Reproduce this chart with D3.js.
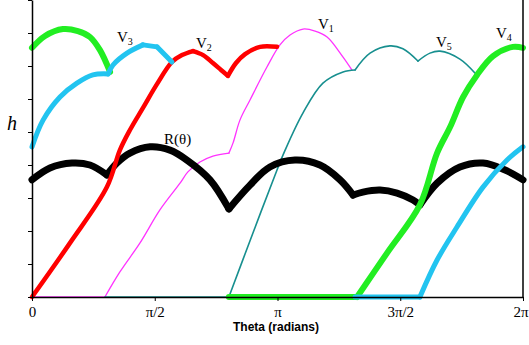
<!DOCTYPE html>
<html>
<head>
<meta charset="utf-8">
<script src="https://cdn.jsdelivr.net/npm/d3@7"></script>
<style>
    body { margin: 0; background: #fff; }
    .tick text { font-family: "Liberation Serif", "Times New Roman", serif; font-size: 15px; }
    .lbl { font-family: "Liberation Serif", "Times New Roman", serif; font-size: 15px; }
    .lbl tspan.sub { font-size: 10px; }
</style>
</head>
<body>
<div id="chart"></div>
<script>
// x values are in multiples of pi, h in axis units (9 ticks)
var tickValues = [0, 0.5, 1, 1.5, 2];
var tickLabels = ["0", "π/2", "π", "3π/2", "2π"];

var rPts = [[0,3.55],[0.073,3.91],[0.163,4.06],[0.236,4.0],[0.305,3.70],[0.346,4.06],[0.399,4.36],
    [0.481,4.55],[0.562,4.45],[0.631,4.15],[0.725,3.55],[0.802,2.67],[0.888,3.39],[0.969,3.94],
    [1.071,4.15],[1.173,4.0],[1.255,3.55],[1.308,3.09],[1.348,3.18],[1.418,3.24],[1.487,3.15],
    [1.552,2.94],[1.580,2.79],[1.650,3.45],[1.743,3.94],[1.837,4.06],[1.927,3.85],[2.0,3.55]];

var v1Pts = [[0,0],[0.297,0],[0.358,0.76],[0.440,1.64],[0.521,2.64],[0.603,3.45],[0.635,3.79],
    [0.684,4.09],[0.737,4.27],[0.802,4.36],[0.819,4.67],[0.847,5.36],[0.888,5.97],[0.957,6.97],
    [1.010,7.64],[1.051,7.94],[1.104,8.12],[1.153,8.06],[1.202,7.88],[1.267,7.27],[1.303,6.88]];

var v2Pts = [[0,0],[0.155,1.64],[0.305,3.33],[0.358,4.45],[0.399,5.06],[0.452,5.73],[0.509,6.45],
    [0.570,7.12],[0.611,7.33],[0.656,7.45],[0.697,7.33],[0.737,7.09],[0.770,6.88],[0.798,6.70],
    [0.831,7.09],[0.868,7.36],[0.929,7.58],[0.998,7.58]];

var v3Pts = [[0,4.55],[0.045,5.36],[0.114,6.06],[0.183,6.48],[0.248,6.73],[0.310,6.76],[0.330,7.03],
    [0.387,7.39],[0.452,7.64],[0.509,7.58],[0.570,7.12], null,
    [1.316,0],[1.580,0],[1.650,1.12],[1.731,2.12],[1.837,3.33],[1.935,4.15],[2.0,4.55]];

var v4Pts = [[0,7.55],[0.053,7.91],[0.126,8.12],[0.187,8.06],[0.236,7.88],[0.277,7.48],[0.318,6.82], null,
    [0.802,0],[1.324,0],[1.446,1.33],[1.580,2.79],[1.650,4.36],[1.703,5.15],[1.756,6.06],
    [1.813,6.73],[1.878,7.30],[1.959,7.58],[2.0,7.55]];

var v5Pts = [[0.297,0],[0.802,0],[0.900,1.94],[0.998,3.85],[1.031,4.45],[1.104,5.58],[1.185,6.48],
    [1.267,6.82],[1.316,6.88],[1.377,7.39],[1.458,7.61],[1.511,7.52],[1.572,7.15],[1.621,7.39],
    [1.662,7.45],[1.743,7.21],[1.804,6.79]];

function init() {

    var w = 529;
    var h = 345;

    var xScale = d3.scaleLinear()
        .domain([0, 2 * Math.PI])
        .range([32, 523]);

    var yScale = d3.scaleLinear()
        .domain([0, 9])
        .range([297, 0]);

    var line = d3.line()
        .curve(d3.curveCatmullRom.alpha(0.5))
        .x(function(d) { return xScale(d[0] * Math.PI); })
        .y(function(d) { return yScale(d[1]); });

    // break a series into smooth pieces: at gaps and at sharp corners (cusps)
    function pieces(pts) {
        var out = [], cur = [];
        pts.forEach(function(p, i) {
            if (p === null) {
                if (cur.length) out.push(cur);
                cur = [];
                return;
            }
            cur.push(p);
            var prev = pts[i - 1], next = pts[i + 1];
            if (prev && next) {
                var a1 = Math.atan2(yScale(p[1]) - yScale(prev[1]), xScale(p[0] * Math.PI) - xScale(prev[0] * Math.PI));
                var a2 = Math.atan2(yScale(next[1]) - yScale(p[1]), xScale(next[0] * Math.PI) - xScale(p[0] * Math.PI));
                if (Math.abs(a2 - a1) > 0.6) {
                    out.push(cur);
                    cur = [p];
                }
            }
        });
        if (cur.length) out.push(cur);
        return out;
    }

    var svg = d3.select("#chart")
        .append("svg")
        .attr("width", w)
        .attr("height", h);

    // series, back to front
    var series = [
        { pts: v1Pts, color: "#FF33FF", width: 1.3 },
        { pts: v5Pts, color: "#178F8F", width: 1.6 },
        { pts: rPts,  color: "#000000", width: 7 },
        { pts: v2Pts, color: "#FF0000", width: 4.5 },
        { pts: v4Pts, color: "#22EE22", width: 6 },
        { pts: v3Pts, color: "#22C4F0", width: 5 }
    ];

    series.forEach(function(s) {
        svg.append("g")
            .selectAll("path")
            .data(pieces(s.pts))
            .join("path")
            .attr("fill", "none")
            .attr("stroke", s.color)
            .attr("stroke-width", s.width)
            .attr("stroke-linejoin", "round")
            .attr("stroke-linecap", "round")
            .attr("d", line);
    });

    // x axis
    var xAxis = d3.axisBottom(xScale)
        .tickValues(tickValues.map(function(v) { return v * Math.PI; }))
        .tickFormat(function(d, i) { return tickLabels[i]; })
        .tickSize(4)
        .tickSizeOuter(0)
        .tickPadding(5);

    var gx = svg.append("g")
        .attr("transform", "translate(0," + yScale(0) + ")")
        .call(xAxis);
    gx.select(".domain").attr("stroke-width", 1.5);

    // keep the last label (2π) inside the picture
    gx.selectAll(".tick text")
        .filter(function(d, i) { return i === tickLabels.length - 1; })
        .attr("text-anchor", "end")
        .attr("x", 5);

    // y axis, ticks only
    var yAxis = d3.axisLeft(yScale)
        .tickValues(d3.range(0, 10))
        .tickFormat("")
        .tickSize(4)
        .tickSizeOuter(0);

    var gy = svg.append("g")
        .attr("transform", "translate(" + xScale(0) + ",0)")
        .call(yAxis);
    gy.select(".domain").attr("stroke-width", 1.5);

    // right border
    svg.append("line")
        .attr("x1", xScale(2 * Math.PI))
        .attr("y1", 0)
        .attr("x2", xScale(2 * Math.PI))
        .attr("y2", yScale(0))
        .attr("stroke", "#000")
        .attr("stroke-width", 1.5);

    // axis titles
    svg.append("text")
        .attr("x", 276)
        .attr("y", 331)
        .attr("text-anchor", "middle")
        .style("font-family", "'Liberation Sans', Arial, sans-serif")
        .style("font-size", "12px")
        .style("font-weight", "bold")
        .text("Theta (radians)");

    svg.append("text")
        .attr("x", 7)
        .attr("y", 130)
        .style("font-family", "'Liberation Serif', 'Times New Roman', serif")
        .style("font-size", "20px")
        .style("font-style", "italic")
        .text("h");

    // curve labels
    var labels = [
        { x: 117, y: 42, main: "V", sub: "3" },
        { x: 196, y: 48, main: "V", sub: "2" },
        { x: 318, y: 29, main: "V", sub: "1" },
        { x: 436, y: 47, main: "V", sub: "5" },
        { x: 496, y: 38, main: "V", sub: "4" }
    ];

    labels.forEach(function(l) {
        var t = svg.append("text")
            .attr("class", "lbl")
            .attr("x", l.x)
            .attr("y", l.y);
        t.append("tspan").text(l.main);
        t.append("tspan").attr("class", "sub").attr("dy", 3).text(l.sub);
    });

    svg.append("text")
        .attr("class", "lbl")
        .attr("x", 164)
        .attr("y", 144)
        .text("R(θ)");
}

window.onload = init;
</script>
</body>
</html>
